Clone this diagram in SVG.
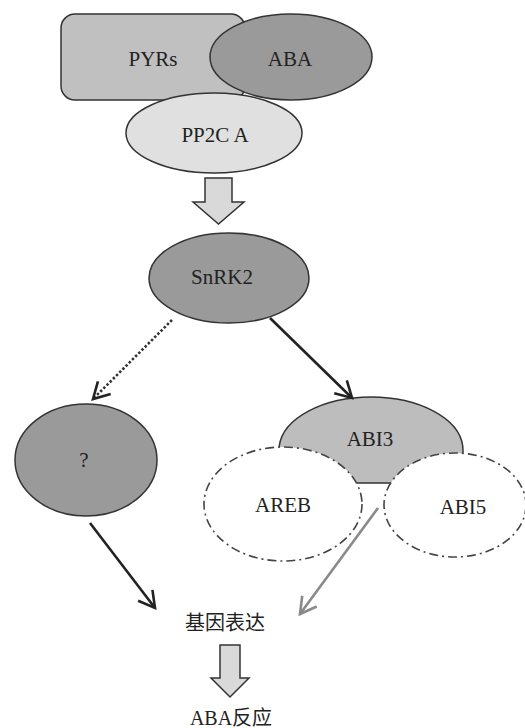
<svg xmlns="http://www.w3.org/2000/svg" width="525" height="728" viewBox="0 0 525 728">
<style>
  text { font-family: "Liberation Serif", "Noto Sans CJK SC", serif; font-size: 21px; fill: #222; text-anchor: middle; dominant-baseline: central; }
  .cjk { font-size: 20px; }
  .solid { stroke: #333; stroke-width: 1.5; }
  .dashdot { fill: #fff; stroke: #444; stroke-width: 1.6; stroke-dasharray: 9,4,2,4; }
  .conn { fill: none; stroke-width: 2.6; }
  .block { fill: #d9d9d9; stroke: #333; stroke-width: 1.5; }
</style>
<defs>
  <marker id="ah" markerUnits="userSpaceOnUse" markerWidth="30" markerHeight="30" viewBox="-20 -15 30 30" refX="0" refY="0" orient="auto">
    <path d="M -16,-9 L 0,0 L -16,9" fill="none" stroke="#222" stroke-width="2.6"/>
  </marker>
  <marker id="ahg" markerUnits="userSpaceOnUse" markerWidth="30" markerHeight="30" viewBox="-20 -15 30 30" refX="0" refY="0" orient="auto">
    <path d="M -16,-9 L 0,0 L -16,9" fill="none" stroke="#8a8a8a" stroke-width="2.6"/>
  </marker>
</defs>

<g id="pyrs">
  <rect x="61" y="14" width="184" height="86" rx="14" fill="#c0c0c0" class="solid"/>
  <text x="153" y="59">PYRs</text>
</g>
<g id="aba">
  <ellipse cx="291" cy="57" rx="81" ry="43" fill="#9a9a9a" class="solid"/>
  <text x="290" y="59">ABA</text>
</g>
<g id="pp2c">
  <ellipse cx="214" cy="133" rx="88" ry="40" fill="#e0e0e0" class="solid"/>
  <text x="215" y="135">PP2C A</text>
</g>
<g id="arrow1">
  <path d="M 205,178 L 232,178 L 232,202 L 244,202 L 218.5,224 L 193,202 L 205,202 Z" class="block"/>
</g>
<g id="snrk2">
  <ellipse cx="229" cy="278" rx="80" ry="45" fill="#9a9a9a" class="solid"/>
  <text x="222" y="277">SnRK2</text>
</g>
<g id="unknown">
  <ellipse cx="86" cy="460" rx="71" ry="56" fill="#9a9a9a" class="solid"/>
  <text x="84" y="460">?</text>
</g>
<g id="abi3">
  <path d="M 299,483 A 92,53 0 1 1 443,483 Z" fill="#bdbdbd" class="solid"/>
  <text x="370" y="439">ABI3</text>
</g>
<g id="areb">
  <ellipse cx="283" cy="504" rx="79" ry="57" class="dashdot"/>
  <text x="283" y="505">AREB</text>
</g>
<g id="abi5">
  <ellipse cx="455" cy="505" rx="71" ry="52" class="dashdot"/>
  <text x="463" y="507">ABI5</text>
</g>
<g id="gene">
  <text class="cjk" x="225" y="623">基因表达</text>
</g>
<g id="arrow2">
  <path d="M 220,645 L 240,645 L 240,678 L 249,678 L 230,697 L 211,678 L 220,678 Z" class="block"/>
</g>
<g id="response">
  <text class="cjk" x="231" y="718">ABA反应</text>
</g>

<g id="connectors">
  <line x1="172" y1="320" x2="93" y2="399" class="conn" stroke="#333" stroke-dasharray="2.5,2" marker-end="url(#ah)"/>
  <line x1="270" y1="318" x2="352" y2="398" class="conn" stroke="#222" marker-end="url(#ah)"/>
  <line x1="90" y1="523" x2="155" y2="608" class="conn" stroke="#222" marker-end="url(#ah)"/>
  <line x1="378" y1="508" x2="300" y2="614" class="conn" stroke="#8a8a8a" marker-end="url(#ahg)"/>
</g>
</svg>
